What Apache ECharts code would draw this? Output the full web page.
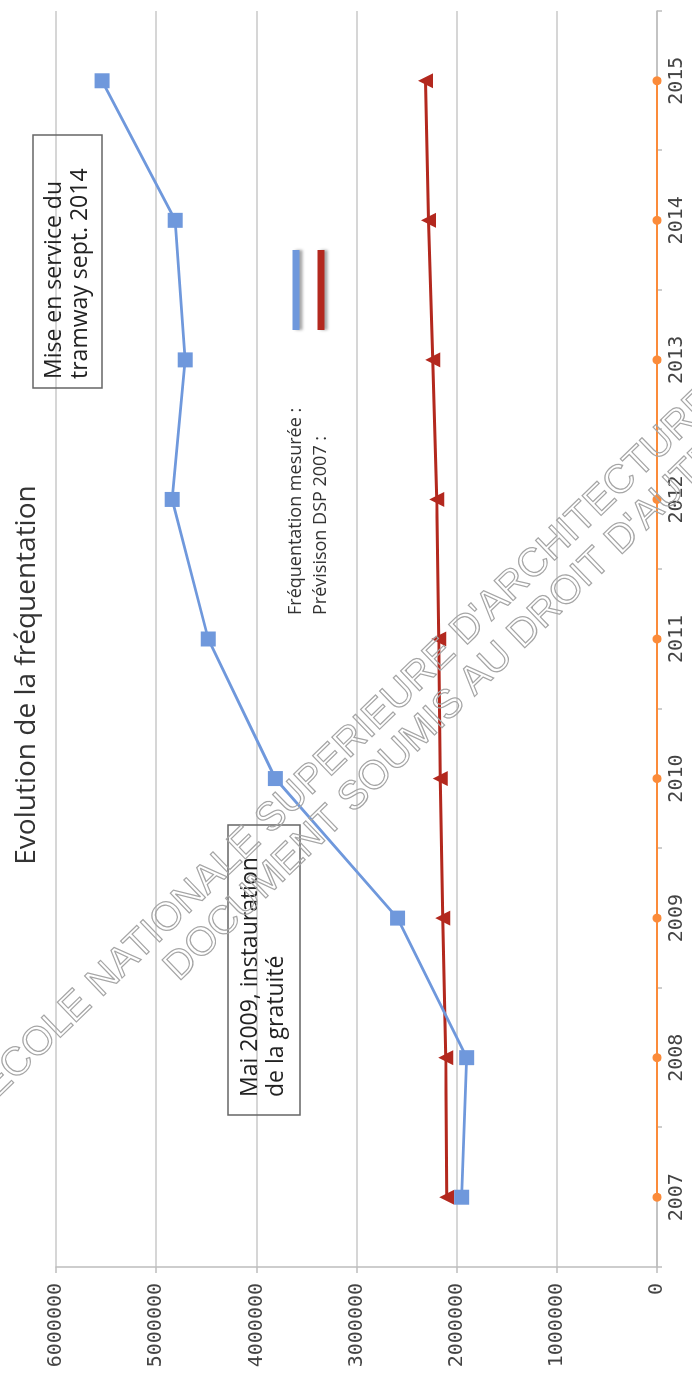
<!DOCTYPE html>
<html><head><meta charset="utf-8">
<script src="https://cdn.jsdelivr.net/npm/echarts@6/dist/echarts.min.js"></script>
<style>
html,body{margin:0;padding:0;background:#fff;overflow:hidden;width:692px;height:1375px;}
#chart{position:absolute;left:0;top:0;width:1375px;height:692px;transform-origin:0 0;transform:rotate(-90deg) translate(-1375px,0);}
</style></head><body><div id="chart"></div>
<script>
const years = ['2007', '2008', '2009', '2010', '2011', '2012', '2013', '2014', '2015'];
const frequentationMesuree = [1950000, 1900000, 2590000, 3810000, 4480000, 4840000, 4710000, 4810000, 5540000];
const previsionDSP2007 = [2100000, 2110000, 2140000, 2165000, 2180000, 2200000, 2240000, 2280000, 2310000];
const serie3 = [0, 0, 0, 0, 0, 0, 0, 0, 0];
const valueMin = 0, valueMax = 6000000, valueStep = 1000000;
const seriesNames = ['Fréquentation mesurée :', 'Prévisison DSP 2007 :', 'Série 3'];
const titleText = 'Evolution de la fréquentation';
const note1 = 'Mise en service du\ntramway sept. 2014';
const note2 = 'Mai 2009, instauration\nde la gratuité';
const watermark1 = "ÉCOLE NATIONALE SUPERIEURE D'ARCHITECTURE";
const watermark2 = "DOCUMENT SOUMIS AU DROIT D'AUTEUR";

const chart = echarts.init(document.getElementById('chart'), null, {renderer: 'canvas'});
const axisGray = '#bdbdbd';
const labelFont = {fontFamily: '"DejaVu Sans Mono", monospace', fontSize: 20, color: '#444'};
const wmStyle = {font: '40px "Liberation Sans", Arial, sans-serif', fill: 'none', stroke: '#a5a5a5', lineWidth: 1.2, align: 'left', verticalAlign: 'middle'};
chart.setOption({
  animation: false,
  backgroundColor: '#fff',
  title: {
    text: titleText, left: 700, top: 13, textAlign: 'center', padding: 0,
    textStyle: {fontFamily: '"Open Sans", sans-serif', fontSize: 28, fontWeight: 'normal', color: '#333'}
  },
  grid: {left: 108, right: 11, top: 56, bottom: 35, containLabel: false, outerBoundsMode: 'none'},
  legend: {
    data: [{name: seriesNames[0], icon: 'rect'}, {name: seriesNames[1], icon: 'rect'}],
    orient: 'vertical', left: 760, top: 286, align: 'right',
    itemWidth: 80, itemHeight: 7, itemGap: 5, selectedMode: false, padding: 0,
    itemStyle: {shadowBlur: 3, shadowColor: 'rgba(0,0,0,0.35)', shadowOffsetY: 3},
    formatter: function (name) { return '{t|' + name + '}'; },
    textStyle: {
      fontFamily: '"Open Sans", sans-serif', fontSize: 18, color: '#333', lineHeight: 20,
      rich: {t: {width: 280, align: 'left', fontFamily: '"Open Sans", sans-serif', fontSize: 18, color: '#333', lineHeight: 20}}
    }
  },
  xAxis: {
    type: 'category', data: years, boundaryGap: true,
    axisLine: {lineStyle: {color: axisGray, width: 1.5}},
    axisTick: {show: true, length: 5, lineStyle: {color: axisGray, width: 1.5}},
    axisLabel: Object.assign({margin: 10}, labelFont),
    splitLine: {show: false}
  },
  yAxis: {
    type: 'value', min: valueMin, max: valueMax, interval: valueStep,
    axisLine: {show: true, lineStyle: {color: axisGray, width: 1.5}},
    axisTick: {show: true, length: 6, lineStyle: {color: axisGray, width: 1.5}},
    axisLabel: Object.assign({margin: 16, formatter: function (v) { return String(v); }}, labelFont),
    splitLine: {lineStyle: {color: '#c8c8c8', width: 1.5}}
  },
  series: [
    {name: seriesNames[0], type: 'line', data: frequentationMesuree, symbol: 'rect', symbolSize: 15,
     lineStyle: {width: 2.8, color: '#6f98dc'}, itemStyle: {color: '#6f98dc'}, z: 4},
    {name: seriesNames[1], type: 'line', data: previsionDSP2007, symbol: 'triangle', symbolSize: 15,
     lineStyle: {width: 3, color: '#b3281e'}, itemStyle: {color: '#b3281e'}, z: 3},
    {name: seriesNames[2], type: 'line', data: serie3, symbol: 'circle', symbolSize: 9,
     lineStyle: {width: 2, color: '#fb8b3a'}, itemStyle: {color: '#fb8b3a'}, z: 2}
  ],
  graphic: [
    {type: 'rect', shape: {x: 987, y: 33, width: 253, height: 69}, style: {fill: 'none', stroke: '#666', lineWidth: 1.5}, z: 10},
    {type: 'text', x: 996, y: 67, style: {text: note1, font: '23px "Open Sans", sans-serif', fill: '#222', align: 'left', verticalAlign: 'middle', lineHeight: 26}, z: 10},
    {type: 'rect', shape: {x: 260, y: 228, width: 290, height: 72}, style: {fill: 'none', stroke: '#666', lineWidth: 1.5}, z: 10},
    {type: 'text', x: 278, y: 263, style: {text: note2, font: '23px "Open Sans", sans-serif', fill: '#222', align: 'left', verticalAlign: 'middle', lineHeight: 26}, z: 10},
    {type: 'text', x: 283, y: -12, rotation: -0.803, silent: true, style: Object.assign({text: watermark1}, wmStyle), z: 20},
    {type: 'text', x: 401, y: 171, rotation: -0.803, silent: true, style: Object.assign({text: watermark2}, wmStyle), z: 20}
  ]
});
</script></body></html>
